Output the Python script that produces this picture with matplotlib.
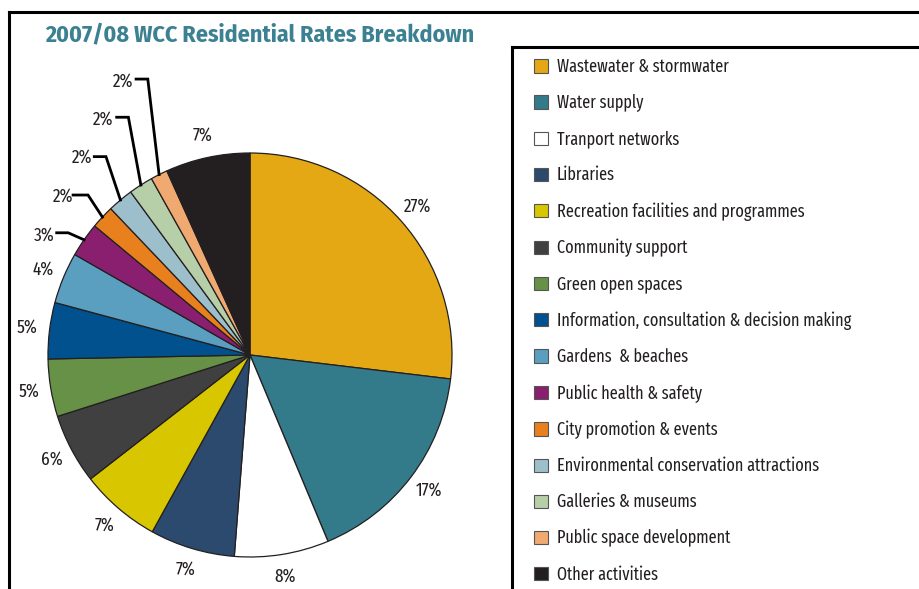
import numpy as np
import matplotlib
matplotlib.use("Agg")
import matplotlib.pyplot as plt
from matplotlib import font_manager
from matplotlib.lines import Line2D

# ---------------- data ----------------
categories = [
    "Wastewater & stormwater",
    "Water supply",
    "Tranport networks",
    "Libraries",
    "Recreation facilities and programmes",
    "Community support",
    "Green open spaces",
    "Information, consultation & decision making",
    "Gardens  & beaches",
    "Public health & safety",
    "City promotion & events",
    "Environmental conservation attractions",
    "Galleries & museums",
    "Public space development",
    "Other activities",
]
shares = [26.9, 16.8, 7.55, 6.8, 6.45, 5.6, 4.6, 4.5, 4.1, 2.75, 1.86, 2.05, 1.95, 1.36, 6.75]
pct_labels = ["27%", "17%", "8%", "7%", "7%", "6%", "5%", "5%", "4%",
              "3%", "2%", "2%", "2%", "2%", "7%"]
colors = ["#E5A815", "#337A8A", "#FFFFFF", "#2C4A6E", "#D8C600", "#404040",
          "#679146", "#00518E", "#5A9EC0", "#8A1F70", "#E8801E", "#9DBFCB",
          "#B7CFA8", "#F0A970", "#231F20"]
title = "2007/08 WCC Residential Rates Breakdown"

# slices labelled with leader lines: index -> (text xy, elbow start, elbow end), radius units
leader_layout = {
    9:  ((-1.02, 0.594), (-0.957, 0.605), (-0.90, 0.605)),
    10: ((-0.926, 0.787), (-0.876, 0.792), (-0.802, 0.792)),
    11: ((-0.832, 0.980), (-0.771, 0.982), (-0.713, 0.982)),
    12: ((-0.728, 1.168), (-0.660, 1.177), (-0.602, 1.177)),
    13: ((-0.629, 1.356), (-0.564, 1.366), (-0.506, 1.366)),
}

# ---------------- fonts ----------------
avail = {f.name for f in font_manager.fontManager.ttflist}
def pick(cands):
    for c in cands:
        if c in avail:
            return c
    return "DejaVu Sans"
fam = pick(["Fira Sans Condensed", "PT Sans Narrow", "Roboto Condensed",
            "Liberation Sans Narrow"])
fam_leg = pick(["Fira Sans Extra Condensed", "Fira Sans Condensed", "PT Sans Narrow"])
leg_fs = 12.7 if fam_leg == "Fira Sans Extra Condensed" else 12.0
plt.rcParams["font.family"] = [fam, "DejaVu Sans"]

W, H = 920, 589
fig = plt.figure(figsize=(W / 100, H / 100), dpi=100)

cx, cy, R = 250, 355, 202
ax = fig.add_axes([(cx - R) / W, (H - cy - R) / H, 2 * R / W, 2 * R / H])
wedges, _ = ax.pie(shares, colors=colors, startangle=90, counterclock=False,
                   radius=1.0,
                   wedgeprops=dict(edgecolor="#231F20", linewidth=0.9))
ax.set_xlim(-1, 1)
ax.set_ylim(-1, 1)
ax.set_aspect("equal")
ax.axis("off")

label_fs = 13.5
for i, w in enumerate(wedges):
    mid = np.deg2rad((w.theta1 + w.theta2) / 2)
    if i in leader_layout:
        txy, p0, p1 = leader_layout[i]
        ex, ey = np.cos(mid), np.sin(mid)
        ax.plot([p0[0], p1[0], ex], [p0[1], p1[1], ey], color="black",
                lw=2.0, solid_joinstyle="miter", clip_on=False)
        ax.text(txy[0], txy[1], pct_labels[i], ha="center", va="center",
                fontsize=label_fs, color="#231F20", clip_on=False,
                family=[fam_leg, "DejaVu Sans"])
    else:
        r = 1.11
        ax.text(r * np.cos(mid), r * np.sin(mid), pct_labels[i], ha="center",
                va="center", fontsize=label_fs, color="#231F20", clip_on=False,
                family=[fam_leg, "DejaVu Sans"])

# title
fig.text(45 / W, 1 - 36 / H, title, ha="left", va="center", fontsize=17.2,
         fontweight="bold", color="#3B8192")

# frame lines
lw_frame = 2.2
fig.add_artist(Line2D([9 / W, 1.01], [1 - 12 / H, 1 - 12 / H], color="black", lw=lw_frame))
fig.add_artist(Line2D([9 / W, 9 / W], [1 - 12 / H, -0.01], color="black", lw=lw_frame))
fig.add_artist(Line2D([512 / W, 1.01], [1 - 47 / H, 1 - 47 / H], color="black", lw=lw_frame))
fig.add_artist(Line2D([512 / W, 512 / W], [1 - 47 / H, -0.01], color="black", lw=lw_frame))

# legend
leg = fig.legend(wedges, categories, loc="upper left",
                 bbox_to_anchor=(534 / W, 1 - 58 / H), frameon=False,
                 prop=dict(family=[fam_leg, "DejaVu Sans"], size=leg_fs),
                 handlelength=0.78, handleheight=0.78,
                 handletextpad=0.5, labelspacing=1.03, borderaxespad=0,
                 borderpad=0)
for h in leg.legend_handles:
    h.set_edgecolor("#555555")
    h.set_linewidth(0.8)
for t in leg.get_texts():
    t.set_color("#231F20")

fig.savefig("out.png", dpi=100)
